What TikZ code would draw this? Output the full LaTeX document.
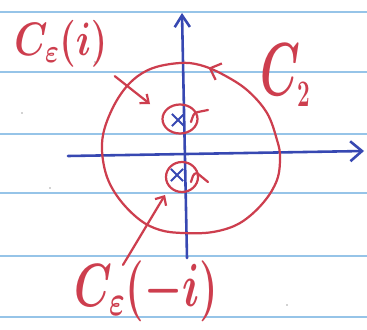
\documentclass[tikz,border=0pt]{standalone}
\usepackage{fix-cm}
\usepackage{amsmath}
\usepackage{xcolor}
\usepackage{graphicx}
\usepackage{tikz}
\usetikzlibrary{arrows.meta, shapes.geometric, shapes.misc, decorations.markings, calc}

\definecolor{inkred}{RGB}{205,62,78}
\definecolor{inkblue}{RGB}{55,72,178}
\definecolor{ruled}{RGB}{150,196,232}

\begin{document}
\begin{tikzpicture}[x=0.03cm, y=-0.03cm,
    redink/.style={inkred, line width=1.9pt, line cap=round, line join=round},
    blueink/.style={inkblue, line width=2.2pt, line cap=round},
    inktext/.style={inkred, inner sep=1pt},
    pole/.style={ellipse, draw=inkred, line width=1.9pt, inner sep=0pt},
    polemark/.style={cross out, draw=inkblue, line width=1.8pt, minimum size=0.3cm, inner sep=0pt}]
  \useasboundingbox (0,0) rectangle (367,329);
  \clip (0,0) rectangle (367,329);
  \fill[white] (0,0) rectangle (367,329);
  % ruled paper
  \foreach \y in {12,72,134,193,256,317} {
    \draw[ruled, line width=1.3pt] (0,\y) -- (367,\y);
  }
  \foreach \p in {(95,62),(22,113),(50,188),(287,305)} {
    \fill[gray!70] \p circle (0.9);
  }
  % axes
  \draw[blueink, -{Straight Barb[length=10pt, width=17pt]}] (68,156) -- (364,151);
  \draw[blueink, -{Straight Barb[length=10pt, width=13pt]}] (187,258) -- (182,13);
  % contour C_2
  \draw[redink, postaction={decorate}, decoration={markings,
      mark=at position 0.19 with {\arrow{Straight Barb[length=8pt, width=15pt]}}}]
    plot[smooth cycle, tension=0.6] coordinates {
      (280,157) (277,140) (267,113) (247,90) (222,74) (200,65) (180,63)
      (153,68) (133,80) (117,100) (105,127) (102,150) (107,177) (120,200)
      (140,220) (160,230) (183,233) (213,232) (240,223) (263,203) (277,180)};
  % small circles round the poles
  \node[pole, minimum width=1.05cm, minimum height=0.87cm] (pi) at (180,119) {};
  \node[pole, minimum width=0.96cm, minimum height=0.9cm] (mi) at (182,177) {};
  \node[polemark] (xi) at (178,120) {};
  \node[polemark] (xmi) at (177,175) {};
  \draw[redink] (191,122) to[out=70, in=180] (198,112) -- (208,110);
  \draw[redink] (191,182) to[out=70, in=180] (197,173) -- (208,182);
  % labels
  \node[inktext, anchor=base west] (lblTop) at (13,55)
    {\scalebox{0.8}[1]{\fontsize{40}{44}\selectfont\boldmath$C_\varepsilon(i)$}};
  \node[inktext, anchor=base west] (lblC2) at (259,95)
    {\scalebox{0.6}[1]{\fontsize{64}{68}\selectfont\boldmath$C_{\scriptscriptstyle 2}$}};
  \node[inktext, anchor=base west] (lblBot) at (73,306)
    {\scalebox{0.7}[1]{\fontsize{52}{56}\selectfont\boldmath$C_\varepsilon(-i)$}};
  \coordinate (tipTop) at (150,104);
  \coordinate (tipBot) at (165,195);
  \draw[redink, -{Straight Barb[length=6pt, width=10pt]}]
    ($(lblTop.south east)+(6,8)$) -- (tipTop);
  \draw[redink, -{Straight Barb[length=6pt, width=11pt]}]
    ($(lblBot.north west)+(50,6)$) -- (tipBot);
\end{tikzpicture}
\end{document}
